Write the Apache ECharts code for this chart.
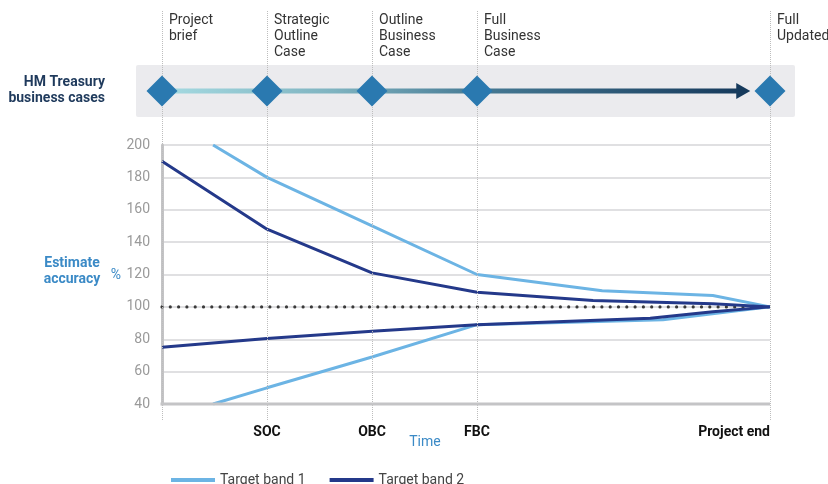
<!DOCTYPE html>
<html>
<head>
<meta charset="utf-8">
<script src="https://cdn.jsdelivr.net/npm/echarts@6/dist/echarts.min.js"></script>
<style>html,body{margin:0;padding:0;background:#fff}#c{width:828px;height:484px}</style>
</head>
<body>
<div id="c"></div>
<script>
// Time positions (percent of project duration)
const milestoneX = [0, 17.27, 34.54, 51.81, 100];
const milestoneNames = ['Project\nbrief', 'Strategic\nOutline\nCase', 'Outline\nBusiness\nCase', 'Full\nBusiness\nCase', 'Full\nUpdated'];
const timeTicks = [17.27, 34.54, 51.81, 100];
const timeTickLabels = ['SOC', 'OBC', 'FBC', 'Project end'];
const yTicks = [40, 60, 80, 100, 120, 140, 160, 180, 200];

const band1Upper = [[8.4, 200], [17.27, 180], [34.54, 150], [51.81, 120], [72.4, 110], [90.6, 107], [100, 100]];
const band1Lower = [[8.4, 40], [17.27, 50], [34.54, 69], [51.81, 89], [82.4, 92], [100, 100]];
const band2Upper = [[0, 190], [17.27, 148], [34.54, 121], [51.81, 109], [70.9, 104], [90.6, 102], [100, 100]];
const band2Lower = [[0, 75], [17.27, 80.5], [34.54, 85], [51.81, 89], [80.3, 93], [90.6, 97], [100, 100]];
const baseline = [[0, 100], [100, 100]];
const arrowLine = [[0, 0], [94.8, 0]];
const arrowHead = [[95.6, 0]];

const FONT = 'Roboto';
const LIGHT = '#6cb4e4';
const DARK = '#24398a';

const chart = echarts.init(document.getElementById('c'));
const L = 162, R = 58;
chart.setOption({
  animation: false,
  textStyle: { fontFamily: FONT },
  grid: [
    { left: L, right: R, top: 145, bottom: 80 },
    { left: L, right: R, top: 65, height: 52 },
    { left: L, right: R, top: 10, bottom: 64 }
  ],
  xAxis: [
    { gridIndex: 0, type: 'value', min: 0, max: 100, axisLine: { show: false }, axisTick: { show: false }, axisLabel: { show: false }, splitLine: { show: false } },
    { gridIndex: 1, type: 'value', min: 0, max: 100, show: false },
    { gridIndex: 2, type: 'value', min: 0, max: 100, show: false }
  ],
  yAxis: [
    { gridIndex: 0, type: 'value', min: 40, max: 200, interval: 20,
      axisLine: { show: true, lineStyle: { color: '#c4c4c6', width: 3 } },
      axisTick: { show: false },
      axisLabel: { color: '#9a9a9a', fontSize: 14, margin: 12, fontFamily: FONT },
      splitLine: { show: true, lineStyle: { color: '#d6d6d8', width: 1.5 } } },
    { gridIndex: 1, type: 'value', min: -1, max: 1, show: false },
    { gridIndex: 2, type: 'value', min: 0, max: 1, show: false }
  ],
  legend: {
    data: ['Target band 1', 'Target band 2'],
    left: 166, top: 468, icon: 'rect', itemWidth: 44, itemHeight: 4, itemGap: 24,
    textStyle: { color: '#444', fontSize: 14, fontFamily: FONT }
  },
  series: [
    { type: 'line', xAxisIndex: 2, yAxisIndex: 2, data: [], silent: true,
      markLine: { silent: true, symbol: 'none', label: { show: false },
        lineStyle: { type: 'dotted', color: '#bdbdbd', width: 1 },
        data: milestoneX.map(x => ({ xAxis: x })) } },
    { type: 'line', data: baseline, showSymbol: false, silent: true, z: 1,
      lineStyle: { color: '#3a3a3a', width: 3.2, type: [0, 8.3], cap: 'round' } },
    { name: 'Target band 1', type: 'line', data: band1Upper, showSymbol: false, clip: true, color: LIGHT, lineStyle: { color: LIGHT, width: 3 } },
    { name: 'Target band 1', type: 'line', data: band1Lower, showSymbol: false, clip: true, color: LIGHT, lineStyle: { color: LIGHT, width: 3 } },
    { name: 'Target band 2', type: 'line', data: band2Upper, showSymbol: false, clip: true, color: DARK, lineStyle: { color: DARK, width: 3 } },
    { name: 'Target band 2', type: 'line', data: band2Lower, showSymbol: false, clip: true, color: DARK, lineStyle: { color: DARK, width: 3 } },
    { type: 'line', xAxisIndex: 1, yAxisIndex: 1, data: arrowLine, showSymbol: false, silent: true,
      lineStyle: { width: 5, color: new echarts.graphic.LinearGradient(0, 0, 1, 0, [
        { offset: 0, color: '#a6dbe2' }, { offset: 0.3, color: '#7fb3c0' },
        { offset: 0.55, color: '#467a94' }, { offset: 1, color: '#163a5c' }]) } },
    { type: 'scatter', xAxisIndex: 1, yAxisIndex: 1, data: arrowHead, symbol: 'triangle', symbolSize: [16, 14], symbolRotate: -90, silent: true,
      itemStyle: { color: '#163a5c', opacity: 1 } },
    { type: 'scatter', xAxisIndex: 1, yAxisIndex: 1, data: milestoneX.map(x => [x, 0]), symbol: 'diamond', symbolSize: [31, 31], silent: true, z: 5,
      itemStyle: { color: '#2a79b0', opacity: 1 } }
  ]
});

// bottom axis line and texts placed with the axis scale
const px = x => chart.convertToPixel({ xAxisIndex: 0 }, x);
const y40 = chart.convertToPixel({ yAxisIndex: 0 }, 40);
const graphics = [
  { type: 'rect', z: -1, shape: { x: 136, y: 65, width: 659, height: 52, r: 2 }, style: { fill: '#ebebee' } },
  { type: 'line', z: 10, shape: { x1: L - 1.5, y1: y40, x2: px(100), y2: y40 }, style: { stroke: '#c4c4c6', lineWidth: 3 } },
  { type: 'text', style: { text: 'HM Treasury\nbusiness cases', x: 105, y: 74, align: 'right', font: 'bold 14px ' + FONT, fill: '#1f3a5c', lineHeight: 16 } },
  { type: 'text', style: { text: 'Estimate\naccuracy', x: 72, y: 255, align: 'center', font: 'bold 14px ' + FONT, fill: '#3b8ac6', lineHeight: 16 } },
  { type: 'text', style: { text: '%', x: 116, y: 268, align: 'center', font: '14px ' + FONT, fill: '#3b8ac6' } },
  { type: 'text', style: { text: 'Time', x: 425, y: 435, align: 'center', font: '14px ' + FONT, fill: '#3b8ac6' } }
];
milestoneNames.forEach((n, i) => {
  graphics.push({ type: 'text', style: { text: n, x: px(milestoneX[i]) + 7, y: 12, align: 'left', font: '14px ' + FONT, fill: '#333', lineHeight: 16 } });
});
timeTickLabels.forEach((t, i) => {
  const last = i === timeTickLabels.length - 1;
  graphics.push({ type: 'text', style: { text: t, x: px(timeTicks[i]), y: 425, align: last ? 'right' : 'center', font: 'bold 14px ' + FONT, fill: '#111' } });
});
chart.setOption({ graphic: graphics });
</script>
</body>
</html>
